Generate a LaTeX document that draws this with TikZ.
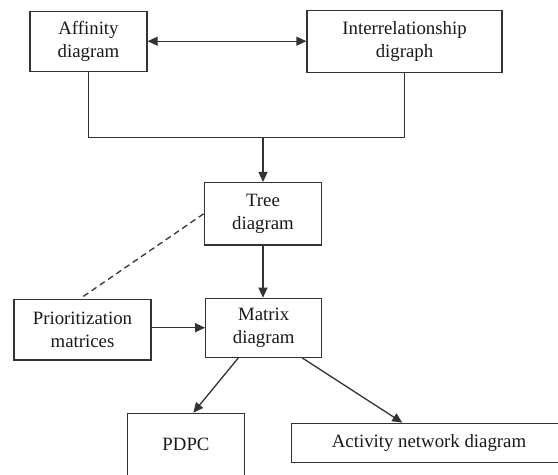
\documentclass[tikz,border=0pt]{standalone}
\usepackage{fontspec}
\setmainfont{Liberation Serif}
\usetikzlibrary{arrows.meta}
\begin{document}
\begin{tikzpicture}[x=1bp,y=-1bp,
  box/.style={draw=black!80, line width=1.3bp, inner sep=0pt, align=center,
    text=black!90, font=\fontsize{18.8bp}{23.5bp}\selectfont},
  link/.style={draw=black!80, line width=1.3bp},
  arrow/.style={link, -{Triangle[length=10bp,width=9bp]}},
  twoway/.style={link, {Triangle[length=10bp,width=9bp]}-{Triangle[length=10bp,width=9bp]}},
  hint/.style={link, dash pattern=on 6bp off 4bp}]
\useasboundingbox (0,0) rectangle (558,475);
\clip (0,0) rectangle (558,475);
\fill[white] (0,0) rectangle (558,475);

% boxes
\node[box, minimum width=117bp, minimum height=60bp] (aff) at (88.5,41.2) {Affinity\\diagram};
\node[box, minimum width=195bp, minimum height=62bp] (int) at (404.5,41.7) {Interrelationship\\digraph};
\node[box, minimum width=117.4bp, minimum height=62.3bp] (tree) at (263,213.8) {Tree\\diagram};
\node[box, minimum width=116bp, minimum height=59bp] (mat) at (263.7,327.8) {Matrix\\diagram};
\node[box, minimum width=137bp, minimum height=60.7bp] (pri) at (82.5,329.7) {Prioritization\\matrices};
\node[box, minimum width=116.6bp, minimum height=62.7bp] (pdpc) at (186,444.7) {PDPC};
\node[box, minimum width=274.6bp, minimum height=39bp] (act) at (429,442.8) {Activity network diagram};

% connectors
\coordinate (jn) at (263,137.3);
\draw[twoway] (aff.east) -- (aff.east -| int.west);
\draw[link] (aff.south) |- (jn) -| (int.south);
\draw[arrow] (jn) -- (jn |- tree.north);
\draw[arrow] (tree.south) -- (tree.south |- mat.north);
\draw[arrow] (pri.east |- 0,327.7) -- (mat.west |- 0,327.7);
\draw[hint] (tree.west) -- ([xshift=-2.5bp]pri.north);
\draw[arrow] ([xshift=-25.4bp]mat.south) -- ([xshift=7.3bp]pdpc.north);
\draw[arrow] ([xshift=38.6bp]mat.south) -- ([xshift=-26.7bp]act.north);
\end{tikzpicture}
\end{document}
